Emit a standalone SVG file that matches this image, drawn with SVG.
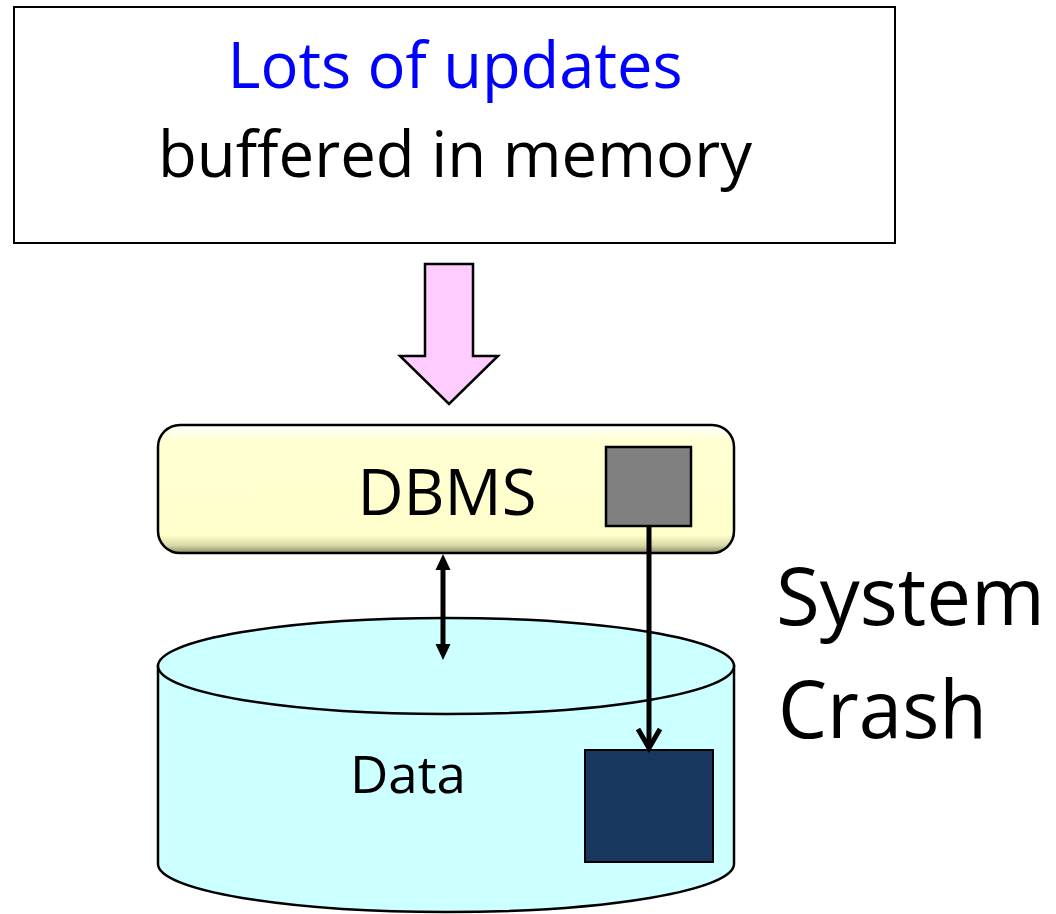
<svg xmlns="http://www.w3.org/2000/svg" width="1056" height="914" viewBox="0 0 1056 914">
  <defs>
    <linearGradient id="bevel" x1="0" y1="0" x2="0" y2="1">
      <stop offset="0" stop-color="#ffffff"/>
      <stop offset="0.12" stop-color="#ffffd2"/>
      <stop offset="0.86" stop-color="#ffffcc"/>
      <stop offset="0.94" stop-color="#d8d8a8"/>
      <stop offset="1" stop-color="#8a8a6a"/>
    </linearGradient>
  </defs>
  <style>
    text { font-family: "Open Sans", "Noto Sans", "Liberation Sans", sans-serif; }
    .edge { fill: none; stroke: #000; stroke-width: 5; }
    .head { fill: #000; stroke: none; }
  </style>
  <rect width="1056" height="914" fill="#fff"/>

  <g id="memory">
    <rect x="14" y="7" width="881" height="236" fill="#fff" stroke="#000" stroke-width="2"/>
    <text x="455" y="88" font-size="64" fill="#0000ff" text-anchor="middle" textLength="455" lengthAdjust="spacingAndGlyphs">Lots of updates</text>
    <text x="455" y="177" font-size="64" fill="#000" text-anchor="middle" textLength="594" lengthAdjust="spacingAndGlyphs">buffered in memory</text>
  </g>

  <g id="flush-arrow">
    <path d="M425,264 L473,264 L473,356 L498,356 L449,404 L400,356 L425,356 Z" fill="#ffccff" stroke="#000" stroke-width="2.5"/>
  </g>

  <g id="dbms">
    <rect x="158" y="425" width="576" height="128" rx="22" ry="22" fill="url(#bevel)" stroke="#000" stroke-width="2.5"/>
    <text x="447" y="515" font-size="64" fill="#000" text-anchor="middle" textLength="179" lengthAdjust="spacingAndGlyphs">DBMS</text>
    <rect id="page-buffered" x="606" y="447" width="85" height="79" fill="#808080" stroke="#000" stroke-width="2.5"/>
  </g>

  <g id="data">
    <path d="M158,666 L158,864 A288,48 0 0 0 734,864 L734,666 Z" fill="#ccffff" stroke="#000" stroke-width="2.5"/>
    <ellipse cx="446" cy="666" rx="288" ry="48" fill="#ccffff" stroke="#000" stroke-width="2.5"/>
    <text x="408" y="793" font-size="51" fill="#000" text-anchor="middle" textLength="116" lengthAdjust="spacingAndGlyphs">Data</text>
    <rect id="page-disk" x="585" y="750" width="128" height="112" fill="#17375e" stroke="#000" stroke-width="2"/>
  </g>

  <g id="connectors">
    <!-- two-way link between DBMS and disk -->
    <line class="edge" x1="443" y1="566" x2="443" y2="648"/>
    <path class="head" d="M443,554 L450.5,570 L435.5,570 Z"/>
    <path class="head" d="M443,660 L435.5,644 L450.5,644 Z"/>
    <!-- page write from buffer to disk -->
    <line class="edge" x1="649" y1="526" x2="649" y2="747"/>
    <polyline class="edge" points="638,729 649,748 660,729" stroke-linejoin="miter"/>
  </g>

  <g id="crash-label">
    <text x="776" y="625" font-size="80" fill="#000" textLength="269" lengthAdjust="spacingAndGlyphs">System</text>
    <text x="778" y="738" font-size="80" fill="#000" textLength="209" lengthAdjust="spacingAndGlyphs">Crash</text>
  </g>
</svg>
